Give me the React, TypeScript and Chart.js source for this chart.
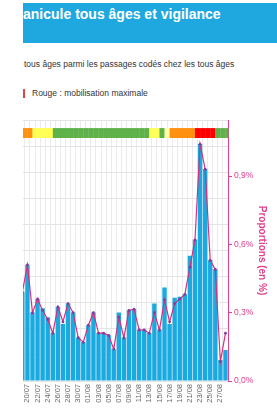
import React, { useEffect, useRef } from 'react';
import { Chart, registerables } from 'chart.js';

Chart.register(...registerables);

const FONT = '"Liberation Sans", Arial, Helvetica, sans-serif';
const PINK = '#e0408c';

// Days shown (19/07 is mostly cut off at the left edge)
const dates = [
  '19/07', '20/07', '21/07', '22/07', '23/07', '24/07', '25/07', '26/07', '27/07', '28/07', '29/07', '30/07', '31/07',
  '01/08', '02/08', '03/08', '04/08', '05/08', '06/08', '07/08', '08/08', '09/08', '10/08', '11/08', '12/08', '13/08',
  '14/08', '15/08', '16/08', '17/08', '18/08', '19/08', '20/08', '21/08', '22/08', '23/08', '24/08', '25/08', '26/08',
  '27/08', '28/08',
];

// Bars: passages (left axis, not visible in the crop)
const passages = [
  34, 44.5, 26.2, 31.4, 27.9, 24.4, 18.3, 28.4, 21.8, 29.7, 26.2, 16.6, 14.8,
  21.4, 26.2, 18.3, 18.3, 17.5, 12.2, 26.2, 16.6, 27.1, 27.5, 19.6, 19.6, 18.3,
  29.7, 19.6, 35.8, 21.8, 31.9, 32.3, 33.2, 48, 54.1, 90.8, 81.2, 46.3, 42.8,
  8, 11.9,
];

// Line: proportions (en %), right axis
const proportions = [
  0.39, 0.51, 0.30, 0.36, 0.31, 0.27, 0.21, 0.325, 0.26, 0.34, 0.30, 0.19, 0.17,
  0.245, 0.30, 0.21, 0.21, 0.20, 0.14, 0.28, 0.19, 0.31, 0.315, 0.224, 0.224, 0.21,
  0.30, 0.224, 0.356, 0.26, 0.34, 0.36, 0.38, 0.50, 0.62, 1.04, 0.93, 0.53, 0.49,
  0.085, 0.21,
];

// Vigilance level per day
const vigilance = [
  'orange', 'orange', 'jaune', 'jaune', 'jaune', 'jaune', 'vert', 'vert', 'vert', 'vert', 'vert', 'vert', 'vert',
  'vert', 'vert', 'vert', 'vert', 'vert', 'vert', 'vert', 'vert', 'vert', 'vert', 'vert', 'vert', 'jaune',
  'jaune', 'vert', 'jauneclair', 'orange', 'orange', 'orange', 'orange', 'orange', 'rouge', 'rouge', 'rouge', 'rouge', 'vert',
  'vert', 'vert',
];

const propTicks = [0, 0.3, 0.6, 0.9];
const leftMax = 100;
const leftStep = 10;
const rightMax = 1.146;
const bandRange = [93.1, 96.9];

const levelColors: Record<string, string> = {
  vert: '#5fb14a',
  jaune: '#ffff55',
  jauneclair: '#ffffa8',
  orange: '#ff9010',
  rouge: '#ff0000',
};

const bandPlugin = {
  id: 'vigilanceBand',
  beforeDatasetsDraw(chart: any) {
    const { ctx, chartArea } = chart;
    const xs = chart.scales.x;
    const ys = chart.scales.y;
    const top = ys.getPixelForValue(bandRange[1]);
    const bottom = ys.getPixelForValue(bandRange[0]);
    ctx.save();
    vigilance.forEach((lvl, i) => {
      const x0 = i === 0 ? chartArea.left : xs.getPixelForValue(i);
      const x1 = i === vigilance.length - 1 ? chartArea.right : xs.getPixelForValue(i + 1);
      ctx.fillStyle = levelColors[lvl];
      ctx.fillRect(x0, top, x1 - x0 + 0.3, bottom - top);
    });
    ctx.restore();
  },
};

function ChartView() {
  const ref = useRef<HTMLCanvasElement | null>(null);
  useEffect(() => {
    if (!ref.current) return;
    const chart = new Chart(ref.current, {
      data: {
        labels: dates,
        datasets: [
          {
            type: 'line',
            label: 'Proportions (en %)',
            data: proportions,
            yAxisID: 'y1',
            borderColor: '#d6307e',
            borderWidth: 1.2,
            pointRadius: 1.4,
            pointBackgroundColor: '#8a3a9a',
            pointBorderWidth: 0,
            tension: 0,
            order: 0,
          },
          {
            type: 'bar',
            label: 'Passages',
            data: passages,
            yAxisID: 'y',
            backgroundColor: '#18aae0',
            borderWidth: 0,
            barPercentage: 1,
            categoryPercentage: 0.86,
            order: 1,
          },
        ],
      } as any,
      options: {
        responsive: false,
        animation: false,
        layout: { padding: { left: 19.8, right: 0, top: 10, bottom: 0 } },
        plugins: { legend: { display: false }, tooltip: { enabled: false } },
        scales: {
          x: {
            offset: true,
            grid: { color: '#ebebeb', drawTicks: false, offset: true },
            border: { display: false },
            ticks: {
              autoSkip: false,
              minRotation: 90,
              maxRotation: 90,
              padding: 3,
              color: '#666',
              font: { size: 7.5, family: FONT },
              callback: (_v: any, i: number) => (i % 2 === 1 ? dates[i] : ''),
            },
            afterFit: (a: any) => { a.height = 31; },
          },
          y: {
            position: 'left',
            min: 0,
            max: leftMax,
            ticks: { display: false, stepSize: leftStep },
            grid: { color: '#e4e4e4', drawTicks: false },
            border: { display: false },
            afterFit: (a: any) => { a.width = 0; },
          },
          y1: {
            position: 'right',
            min: 0,
            max: rightMax,
            afterBuildTicks: (a: any) => { a.ticks = propTicks.map((v) => ({ value: v })); },
            ticks: {
              color: PINK,
              padding: 2,
              font: { size: 8.5, family: FONT },
              callback: (v: any) => Number(v).toFixed(1).replace('.', ',') + '%',
            },
            grid: { drawOnChartArea: false, color: PINK, tickLength: 4 },
            border: { color: PINK, width: 1 },
            title: {
              display: true,
              text: 'Proportions (en %)',
              color: PINK,
              font: { size: 10, weight: 'bold', family: FONT },
              padding: { top: 9, bottom: 0 },
            },
            afterFit: (a: any) => { a.width = 49; },
          },
        },
      } as any,
      plugins: [bandPlugin],
    });
    return () => chart.destroy();
  }, []);
  return (
    <canvas
      ref={ref}
      width={277}
      height={302}
      style={{
        position: 'absolute',
        left: 0,
        top: 110,
        width: 277,
        height: 302,
        clipPath: 'inset(0 0 0 23px)',
      }}
    />
  );
}

export default function App() {
  return (
    <div
      style={{
        position: 'absolute',
        left: 0,
        top: 0,
        width: 277,
        height: 412,
        overflow: 'hidden',
        background: '#fff',
        fontFamily: FONT,
      }}
    >
      <div
        style={{
          position: 'absolute',
          left: 23,
          top: 3,
          width: 254,
          height: 40,
          background: '#1fa8df',
        }}
      >
        <div
          style={{
            position: 'absolute',
            left: 0,
            top: 4,
            color: '#fff',
            fontWeight: 'bold',
            fontSize: 14,
            lineHeight: '14px',
            whiteSpace: 'nowrap',
          }}
        >
          anicule tous âges et vigilance
        </div>
      </div>
      <div
        style={{
          position: 'absolute',
          left: 24,
          top: 59,
          fontSize: 8.5,
          lineHeight: '10px',
          color: '#333',
          whiteSpace: 'nowrap',
        }}
      >
        tous âges parmi les passages codés chez les tous âges
      </div>
      <div
        style={{
          position: 'absolute',
          left: 23,
          top: 89,
          width: 1.5,
          height: 9,
          background: '#e8404a',
        }}
      />
      <div
        style={{
          position: 'absolute',
          left: 32,
          top: 88,
          fontSize: 8.5,
          lineHeight: '10px',
          color: '#333',
          whiteSpace: 'nowrap',
        }}
      >
        Rouge : mobilisation maximale
      </div>
      <ChartView />
    </div>
  );
}
